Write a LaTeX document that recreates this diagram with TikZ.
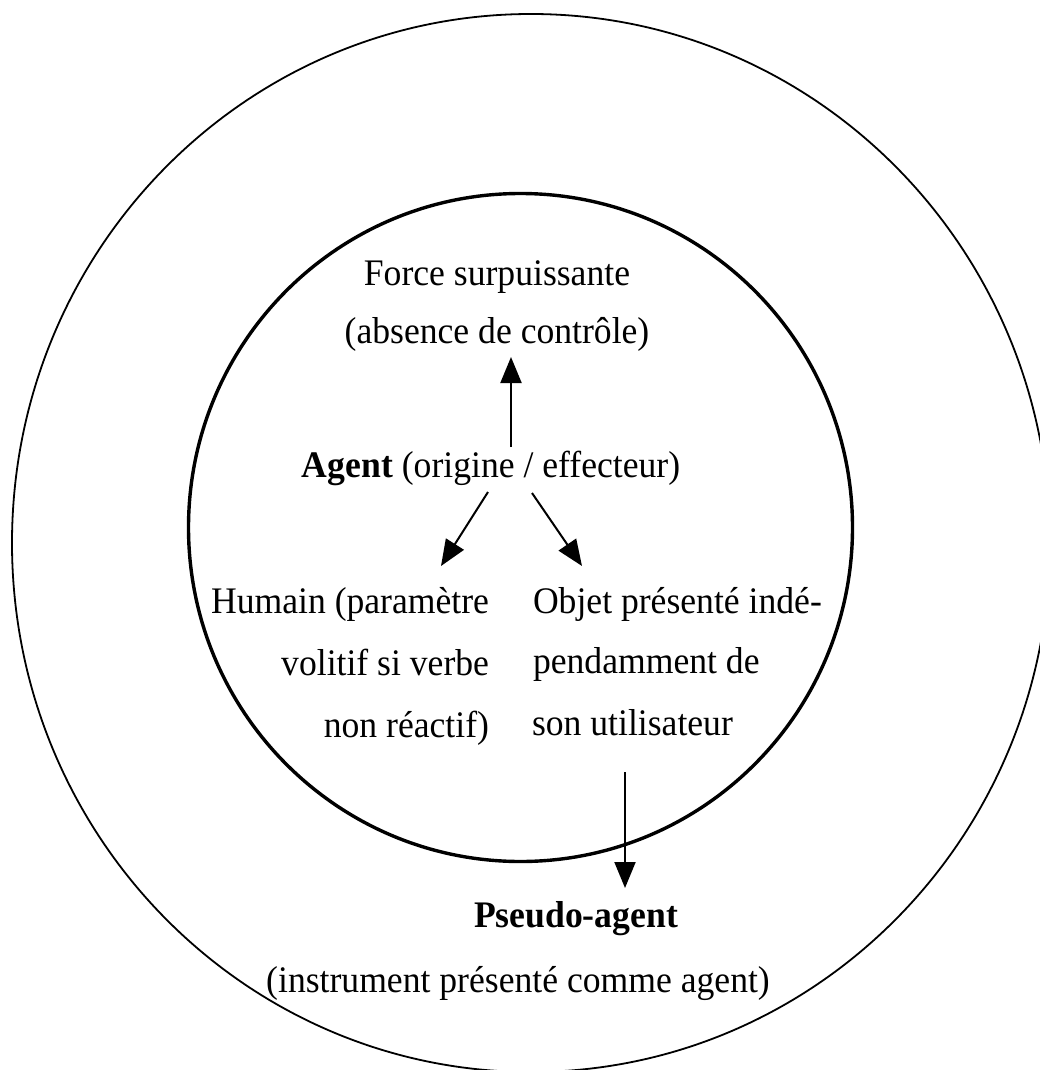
\documentclass[tikz,border=0pt]{standalone}
\usepackage{fontspec}
\setmainfont{Liberation Serif}[FakeStretch=0.95]
\usetikzlibrary{arrows.meta}
\tikzset{
  lbl/.style={inner sep=0pt, outer sep=0pt, font=\fontsize{37.5}{42}\selectfont},
  arr/.style={line width=2pt, -{Triangle[length=26pt,width=21pt]}},
}
\begin{document}
\begin{tikzpicture}[x=1pt,y=-1pt]
\useasboundingbox (0,0) rectangle (1040,1070);
% circles
\draw[line width=1.8pt] (531,543) ellipse [x radius=519, y radius=529];
\draw[line width=3.4pt] (520.5,527.5) ellipse [x radius=332, y radius=334];
% texts
\node[lbl, anchor=base] (force) at (497,285) {Force surpuissante};
\node[lbl, anchor=base] (abs) at (497,343) {(absence de contrôle)};
\node[lbl, anchor=base] (agent) at (491,477) {\textbf{Agent} (origine / effecteur)};
\node[lbl, anchor=base east] (h1) at (489,613) {Humain (paramètre};
\node[lbl, anchor=base east] (h2) at (489,675) {volitif si verbe};
\node[lbl, anchor=base east] (h3) at (489,737) {non réactif)};
\node[lbl, anchor=base west] (o1) at (533,613) {Objet présenté indé-};
\node[lbl, anchor=base west] (o2) at (533,673) {pendamment de};
\node[lbl, anchor=base west] (o3) at (532,735) {son utilisateur};
\node[lbl, anchor=base] (pseudo) at (576,927) {\textbf{Pseudo-agent}};
\node[lbl, anchor=base] (instr) at (518,992) {(instrument présenté comme agent)};
% arrow endpoints
\coordinate (upS) at (511,447);
\coordinate (upT) at (511,357);
\coordinate (lS) at (488,492);
\coordinate (lT) at (441,566);
\coordinate (rS) at (532,493);
\coordinate (rT) at (582,566);
\coordinate (dS) at (625,772);
\coordinate (dT) at (625,888);
\draw[arr] (upS) -- (upT);
\draw[arr] (lS) -- (lT);
\draw[arr] (rS) -- (rT);
\draw[arr] (dS) -- (dT);
\end{tikzpicture}
\end{document}
